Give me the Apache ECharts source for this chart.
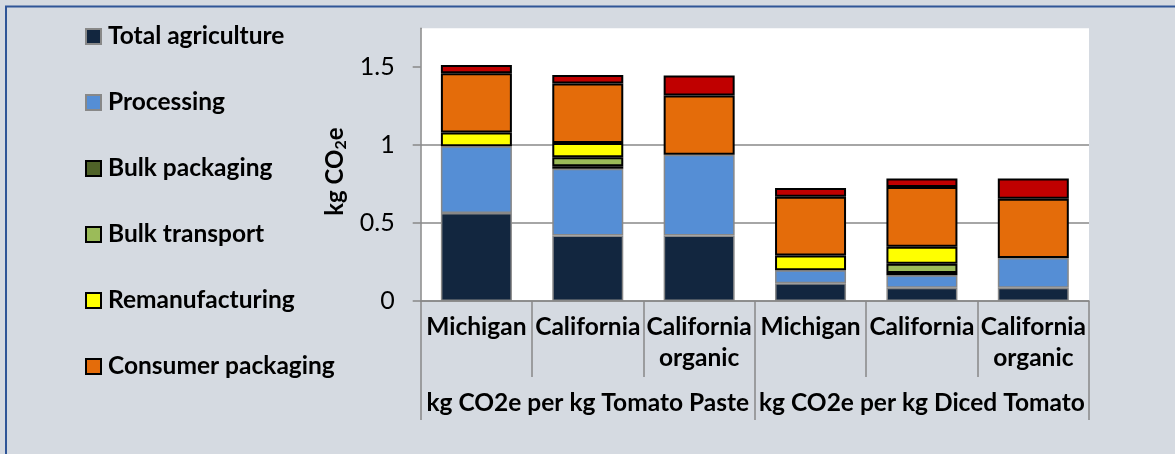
<!DOCTYPE html>
<html>
<head>
<meta charset="utf-8">
<script src="https://cdn.jsdelivr.net/npm/echarts@6/dist/echarts.min.js"></script>
<style>
  html, body { margin: 0; padding: 0; background: #d5dae1; }
  #chart { width: 1175px; height: 454px; }
</style>
</head>
<body>
<div id="chart"></div>
<script>
// Origin / product combinations along the x axis
const categories = ['Michigan', 'California', 'California\norganic', 'Michigan', 'California', 'California\norganic'];
// Product groups spanning three bars each
const groups = ['kg CO2e per kg Tomato Paste', 'kg CO2e per kg Diced Tomato'];
// Y axis tick values
const yTicks = [0, 0.5, 1, 1.5];

// Emission stages, kg CO2e per kg product (null = stage not present)
const totalAgriculture = [0.565, 0.420, 0.420, 0.113, 0.085, 0.085];
const processing       = [0.427, 0.428, 0.518, 0.084, 0.080, 0.191];
const bulkPackaging    = [null, 0.016, null, null, 0.014, null];
const bulkTransport    = [null, 0.058, null, null, 0.060, null];
const remanufacturing  = [0.089, 0.092, null, 0.094, 0.109, null];
const consumerPackaging= [0.381, 0.382, 0.380, 0.378, 0.383, 0.380];
const distribution     = [0.053, 0.054, 0.129, 0.056, 0.055, 0.130];

const FONT = 'Lato, "Open Sans", sans-serif';
const GRAY = '#888888';

function stage(name, data, color, border, bw) {
  return {
    name: name,
    type: 'bar',
    stack: 'total',
    data: data,
    barWidth: 71,
    itemStyle: { color: color, borderColor: border, borderWidth: bw },
    emphasis: { disabled: true }
  };
}

const chart = echarts.init(document.getElementById('chart'));
chart.setOption({
  backgroundColor: '#d5dae1',
  animation: false,
  textStyle: { fontFamily: FONT },
  graphic: [{
    type: 'rect',
    shape: { x: 6, y: 6.5, width: 1250, height: 600 },
    style: { fill: 'none', stroke: '#2f5597', lineWidth: 2 },
    silent: true
  }],
  legend: {
    orient: 'vertical',
    left: 80,
    top: 19,
    itemWidth: 15,
    itemHeight: 15,
    itemGap: 41,
    icon: 'rect',
    data: ['Total agriculture', 'Processing', 'Bulk packaging', 'Bulk transport', 'Remanufacturing', 'Consumer packaging'],
    textStyle: { fontFamily: FONT, fontSize: 24.5, fontWeight: 'bold', color: '#000', padding: [0, 0, 0, 2] },
    selectedMode: false
  },
  grid: {
    left: 420.7, right: 86, top: 28.3, bottom: 153.1,
    show: true, backgroundColor: '#ffffff', borderWidth: 0
  },
  xAxis: [{
    type: 'category',
    data: categories,
    position: 'bottom',
    axisLine: { show: true, lineStyle: { color: GRAY, width: 1.5 } },
    axisTick: { show: true, length: 76, interval: 0, lineStyle: { color: GRAY, width: 1.5 } },
    axisLabel: {
      interval: 0, margin: 10, color: '#000', fontFamily: FONT,
      fontSize: 24.5, fontWeight: 'bold', lineHeight: 31.7
    }
  }, {
    type: 'category',
    data: groups,
    position: 'bottom',
    axisLine: { show: false },
    axisTick: { show: true, length: 119, interval: 0, lineStyle: { color: GRAY, width: 1.5 } },
    axisLabel: {
      interval: 0, margin: 89, color: '#000', fontFamily: FONT,
      fontSize: 24.5, fontWeight: 'bold', lineHeight: 26
    }
  }],
  yAxis: {
    type: 'value',
    min: 0, max: 1.75, interval: 0.5,
    name: '{a|kg CO}{s|2}{a|e}',
    nameLocation: 'middle',
    nameGap: 64,
    nameRotate: 90,
    nameTextStyle: {
      padding: [0, 14, 0, 0],
      rich: {
        a: { fontFamily: FONT, fontSize: 24, fontWeight: 'bold', color: '#000', lineHeight: 28 },
        s: { fontFamily: FONT, fontSize: 16, fontWeight: 'bold', color: '#000', lineHeight: 28, verticalAlign: 'bottom' }
      }
    },
    axisLine: { show: true, lineStyle: { color: GRAY, width: 1.5 } },
    axisTick: { show: true, length: 8, inside: false, customValues: yTicks, lineStyle: { color: GRAY, width: 1.5 } },
    axisLabel: { customValues: yTicks, margin: 26, color: '#000', fontFamily: FONT, fontSize: 25 },
    splitLine: { show: true, showMaxLine: false, lineStyle: { color: GRAY, width: 1.5 } }
  },
  series: [
    stage('Total agriculture', totalAgriculture, '#12263f', GRAY, 1.5),
    stage('Processing', processing, '#558ed5', GRAY, 1.5),
    stage('Bulk packaging', bulkPackaging, '#4f6228', '#000', 2),
    stage('Bulk transport', bulkTransport, '#9bbb59', '#000', 2),
    stage('Remanufacturing', remanufacturing, '#ffff00', '#000', 2),
    stage('Consumer packaging', consumerPackaging, '#e46c0a', '#000', 2),
    stage('Distribution', distribution, '#c00000', '#000', 2)
  ]
});
</script>
</body>
</html>
